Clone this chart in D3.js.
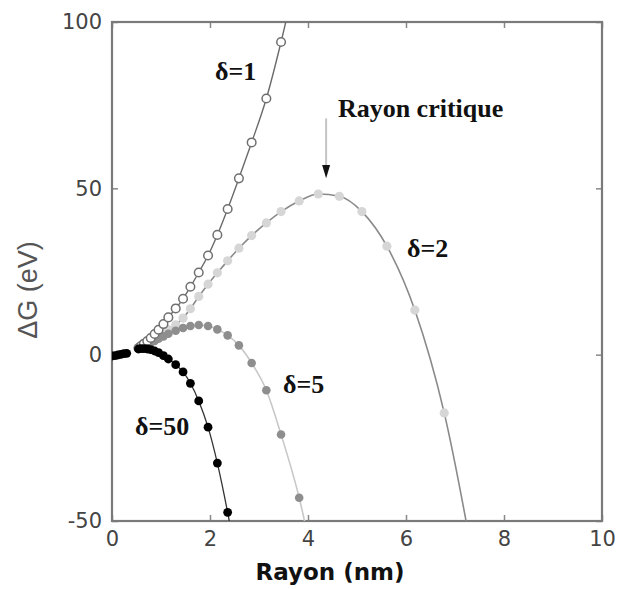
<!DOCTYPE html>
<html>
<head>
<meta charset="utf-8">
<script src="https://cdn.jsdelivr.net/npm/d3@7"></script>
<style>
  body { margin: 0; background: #fff; }
  svg { display: block; }
</style>
</head>
<body>
<div id="chart"></div>
<script>
// rayon (nm), same grid for all the curves
const radius = [0.54, 0.59, 0.65, 0.72, 0.79, 0.87, 0.95, 1.05, 1.15, 1.30, 1.45, 1.60, 1.77, 1.96,
  2.15, 2.36, 2.59, 2.85, 3.15, 3.45, 3.82, 4.21, 4.64, 5.10, 5.61, 6.18, 6.78, 7.45];

// ΔG (eV)
const dG1 = [2.0, 2.6, 3.3, 4.1, 5.0, 6.2, 7.5, 9.2, 11.2, 13.9, 16.8, 20.4, 24.7, 29.8, 36.0, 43.8,
  53.0, 63.8, 77.0, 94.0, 118];
const dG2 = [2.0, 2.4, 2.8, 3.3, 3.9, 4.6, 5.4, 6.4, 7.5, 9.0, 11.0, 13.8, 17.5, 21.2, 24.6, 28.2,
  32.0, 35.8, 39.6, 43.0, 46.2, 48.3, 47.6, 43.0, 32.6, 13.4, -17.5, -68];
const dG5 = [1.8, 2.1, 2.5, 3.0, 3.5, 4.1, 4.8, 5.5, 6.3, 7.2, 8.0, 8.6, 8.9, 8.6, 7.6, 5.8, 2.8,
  -2.5, -10.7, -24.0, -43.0, -70];
const dG50 = [1.7, 1.8, 1.8, 1.7, 1.5, 1.1, 0.6, -0.3, -1.3, -3.0, -5.2, -8.6, -13.9, -21.8, -32.6,
  -47.4, -66];
// small black points next to the origin
const radius0 = [0, 0.06, 0.12, 0.18, 0.24, 0.30];
const dG0 = [-0.4, -0.3, -0.1, 0.1, 0.3, 0.4];

const xTicks = [0, 2, 4, 6, 8, 10];
const yTicks = [-50, 0, 50, 100];

const W = 620, H = 589;
const mLeft = 112, mRight = 602, mTop = 22, mBottom = 521;

const svg = d3.select("#chart").append("svg")
  .attr("width", W).attr("height", H);

const x = d3.scaleLinear().domain([0, 10]).range([mLeft, mRight]);
const y = d3.scaleLinear().domain([-50, 100]).range([mBottom, mTop]);

svg.append("clipPath").attr("id", "clip")
  .append("rect")
  .attr("x", mLeft).attr("y", mTop)
  .attr("width", mRight - mLeft).attr("height", mBottom - mTop);

// axes, ticks pointing inside
const tickFont = "'DejaVu Sans', sans-serif";
const plain = d => String(d);   // keep the hyphen in "-50"
const gx = svg.append("g")
  .attr("transform", `translate(0,${mBottom})`)
  .call(d3.axisBottom(x).tickValues(xTicks).tickFormat(plain)
    .tickSizeInner(-6).tickSizeOuter(0).tickPadding(10));
const gy = svg.append("g")
  .attr("transform", `translate(${mLeft},0)`)
  .call(d3.axisLeft(y).tickValues(yTicks).tickFormat(plain)
    .tickSizeInner(-6).tickSizeOuter(0).tickPadding(10));
svg.append("g")
  .attr("transform", `translate(${mRight},0)`)
  .call(d3.axisRight(y).tickValues(yTicks).tickSizeInner(-6).tickSizeOuter(0).tickFormat(""));
svg.append("g")
  .attr("transform", `translate(0,${mTop})`)
  .call(d3.axisTop(x).tickValues(xTicks).tickSizeInner(-6).tickSizeOuter(0).tickFormat(""));

svg.selectAll(".domain").remove();
svg.selectAll(".tick line").attr("stroke", "#888").attr("stroke-width", 1.5);
[gx, gy].forEach(g => g.selectAll("text")
  .attr("font-family", tickFont).attr("font-size", 21).attr("fill", "#444"));

svg.append("rect")
  .attr("x", mLeft).attr("y", mTop)
  .attr("width", mRight - mLeft).attr("height", mBottom - mTop)
  .attr("fill", "none").attr("stroke", "#7a7a7a").attr("stroke-width", 2.2);

// axis titles
svg.append("text")
  .attr("x", 330).attr("y", 580)
  .attr("text-anchor", "middle")
  .attr("font-family", "'DejaVu Sans', sans-serif").attr("font-weight", "bold")
  .attr("font-size", 23).attr("fill", "#111")
  .text("Rayon (nm)");

svg.append("text")
  .attr("transform", "translate(37,290) rotate(-90)")
  .attr("text-anchor", "middle")
  .attr("font-family", "'Liberation Sans', Arial, sans-serif")
  .attr("font-size", 27).attr("fill", "#555")
  .text("ΔG (eV)");

// curves
const plot = svg.append("g").attr("clip-path", "url(#clip)");

const series = [
  { xs: radius, ys: dG2, line: "#8a8a8a", lw: 1.6, fill: "#d6d6d6", stroke: "none", r: 4.6 },
  { xs: radius, ys: dG5, line: "#c8c8c8", lw: 1.6, fill: "#8e8e8e", stroke: "none", r: 4.3 },
  { xs: radius, ys: dG1, line: "#6a6a6a", lw: 1.4, fill: "#fff", stroke: "#707070", r: 4.3 },
  { xs: radius, ys: dG50, line: "#333", lw: 1.3, fill: "#000", stroke: "none", r: 4.4 },
  { xs: radius0, ys: dG0, line: "#000", lw: 1.3, fill: "#000", stroke: "none", r: 4.4 }
];

const line = d3.line().x(d => x(d[0])).y(d => y(d[1])).curve(d3.curveMonotoneX);

series.forEach(s => {
  const pts = s.ys.map((v, i) => [s.xs[i], v]);
  plot.append("path")
    .attr("d", line(pts))
    .attr("fill", "none").attr("stroke", s.line).attr("stroke-width", s.lw);
  plot.selectAll(null)
    .data(pts)
    .enter().append("circle")
    .attr("cx", d => x(d[0]))
    .attr("cy", d => y(d[1]))
    .attr("r", s.r)
    .attr("fill", s.fill)
    .attr("stroke", s.stroke)
    .attr("stroke-width", 1.5);
});

// annotations
const labels = [
  { t: "δ=1", x: 2.10, y: 82.6 },
  { t: "Rayon critique", x: 4.61, y: 71.4 },
  { t: "δ=2", x: 6.02, y: 29.4 },
  { t: "δ=5", x: 3.49, y: -11.5 },
  { t: "δ=50", x: 0.47, y: -24.1 }
];
svg.selectAll(".lab")
  .data(labels)
  .enter().append("text")
  .attr("x", d => x(d.x)).attr("y", d => y(d.y))
  .attr("font-family", "'Liberation Serif', 'Times New Roman', serif")
  .attr("font-weight", "bold").attr("font-size", 26).attr("fill", "#111")
  .text(d => d.t);

// arrow to the critical radius
const ax = 4.37;
svg.append("line")
  .attr("x1", x(ax)).attr("x2", x(ax))
  .attr("y1", y(71)).attr("y2", y(56))
  .attr("stroke", "#c4c4c4").attr("stroke-width", 2);
svg.append("path")
  .attr("d", `M${x(ax) - 4},${y(57)} L${x(ax) + 4},${y(57)} L${x(ax)},${y(53)} Z`)
  .attr("fill", "#111");
</script>
</body>
</html>
